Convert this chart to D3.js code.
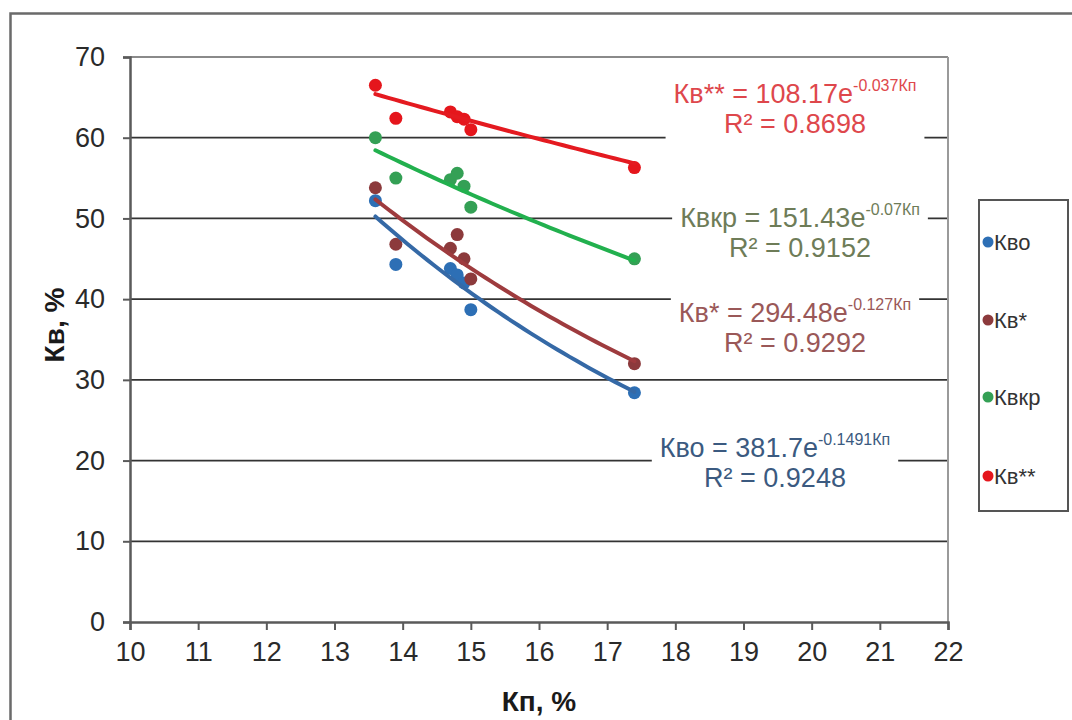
<!DOCTYPE html>
<html>
<head>
<meta charset="utf-8">
<script src="https://cdn.jsdelivr.net/npm/d3@7"></script>
<style>
  body { margin: 0; background: #fff; }
  svg { display: block; font-family: "Liberation Sans", Arial, sans-serif; }
</style>
</head>
<body>
<div id="chart"></div>
<script>
//================================
// Data
var kp = [13.6, 13.9, 14.7, 14.8, 14.9, 15.0, 17.4];

var kvo     = [52.2, 44.3, 43.8, 43.0, 42.0, 38.7, 28.4];
var kvStar  = [53.8, 46.8, 46.3, 48.0, 45.0, 42.5, 32.0];
var kvkr    = [60.0, 55.0, 54.8, 55.6, 54.0, 51.4, 45.0];
var kvStar2 = [66.5, 62.4, 63.2, 62.6, 62.3, 61.0, 56.3];

var seriesNames = ['Кво', 'Кв*', 'Квкр', 'Кв**'];
// trend y = a * exp(b * Kп), as printed on the chart
var trendA = [381.7, 294.48, 151.43, 108.17];
var trendB = [-0.1491, -0.127, -0.07, -0.037];
var eqLead = ['Кво = 381.7e', 'Кв* = 294.48e', 'Квкр = 151.43e', 'Кв** = 108.17e'];
var eqPow  = ['-0.1491Кп', '-0.127Кп', '-0.07Кп', '-0.037Кп'];
var r2Text = ['R² = 0.9248', 'R² = 0.9292', 'R² = 0.9152', 'R² = 0.8698'];

var xTicks = d3.range(10, 23, 1);
var yTicks = d3.range(0, 71, 10);

//================================
// Styles
var markColor  = ['#2d6fb5', '#8c3a3c', '#34a055', '#e5161c'];
var lineColor  = ['#3569a6', '#9e3b3e', '#22b04e', '#e41a20'];
var labelColor = ['#3b5a80', '#9a5858', '#6e7c58', '#de474c'];
// label centre x, equation baseline y
var labelPos = [[775, 457], [795, 322], [800, 227], [795, 103]];
var legendY = [242, 320, 397, 476];

var W = 1072, H = 720,
    plotL = 130, plotR = 948, plotT = 57, plotB = 622;

var svg = d3.select('#chart').append('svg')
    .attr('width', W).attr('height', H);

// outer chart border
svg.append('rect')
    .attr('x', 10.5).attr('y', 13.5)
    .attr('width', 1100).attr('height', 800)
    .attr('fill', '#fff').attr('stroke', '#6a6a6a').attr('stroke-width', 2.5);

var x = d3.scaleLinear().domain([10, 22]).range([plotL, plotR]);
var y = d3.scaleLinear().domain([0, 70]).range([plotB, plotT]);

// grid
svg.append('g').selectAll('line')
    .data(yTicks.filter(function(d) { return d > 0; }))
  .enter().append('line')
    .attr('x1', plotL).attr('x2', plotR)
    .attr('y1', function(d) { return y(d); })
    .attr('y2', function(d) { return y(d); })
    .attr('stroke', function(d) { return d === 70 ? '#8a8a8a' : '#333'; })
    .attr('stroke-width', 1.8);

// plot area right edge
svg.append('line')
    .attr('x1', plotR).attr('x2', plotR)
    .attr('y1', plotT).attr('y2', plotB)
    .attr('stroke', '#9a9a9a').attr('stroke-width', 2);

// axes
var yAxis = svg.append('g')
    .attr('transform', 'translate(' + plotL + ',0)')
    .call(d3.axisLeft(y).tickValues(yTicks).tickSize(7).tickPadding(18));
var xAxis = svg.append('g')
    .attr('transform', 'translate(0,' + plotB + ')')
    .call(d3.axisBottom(x).tickValues(xTicks).tickSize(8).tickPadding(12));

[yAxis, xAxis].forEach(function(ax) {
  ax.select('.domain').attr('stroke', '#5a5a5a').attr('stroke-width', 2.5);
  ax.selectAll('.tick line').attr('stroke', '#5a5a5a').attr('stroke-width', 2);
  ax.selectAll('.tick text')
      .attr('fill', '#2a2a2a')
      .style('font-size', '27px')
      .style('font-family', '"Liberation Sans", Arial, sans-serif');
});

// axis titles
svg.append('text')
    .attr('transform', 'translate(64,325) rotate(-90)')
    .attr('text-anchor', 'middle')
    .style('font-size', '28px').style('font-weight', 'bold')
    .attr('fill', '#1a1a1a')
    .text('Кв, %');
svg.append('text')
    .attr('x', 539).attr('y', 711)
    .attr('text-anchor', 'middle')
    .style('font-size', '28px').style('font-weight', 'bold')
    .attr('fill', '#1a1a1a')
    .text('Кп, %');

//================================
// series
var allSeries = [kvo, kvStar, kvkr, kvStar2];

allSeries.forEach(function(vals, i) {
  svg.append('g').selectAll('circle')
      .data(vals)
    .enter().append('circle')
      .attr('cx', function(d, j) { return x(kp[j]); })
      .attr('cy', function(d) { return y(d); })
      .attr('r', 6.5)
      .attr('fill', markColor[i]);
});

allSeries.forEach(function(vals, i) {
  var x0 = d3.min(kp), x1 = d3.max(kp);
  var pts = d3.range(0, 41).map(function(k) {
    var xv = x0 + (x1 - x0) * k / 40;
    return [xv, trendA[i] * Math.exp(trendB[i] * xv)];
  });
  svg.append('path')
      .datum(pts)
      .attr('d', d3.line()
          .x(function(d) { return x(d[0]); })
          .y(function(d) { return y(d[1]); }))
      .attr('fill', 'none')
      .attr('stroke', lineColor[i])
      .attr('stroke-width', 4)
      .attr('stroke-linecap', 'round');
});

// trend labels
seriesNames.forEach(function(name, i) {
  var g = svg.append('g');
  var bg = g.append('rect').attr('fill', '#fff');
  var eq = g.append('text')
      .attr('x', labelPos[i][0]).attr('y', labelPos[i][1])
      .attr('text-anchor', 'middle')
      .attr('fill', labelColor[i])
      .style('font-size', '27px');
  eq.append('tspan').text(eqLead[i]);
  eq.append('tspan').attr('dy', -12).style('font-size', '16px').text(eqPow[i]);
  g.append('text')
      .attr('x', labelPos[i][0]).attr('y', labelPos[i][1] + 30)
      .attr('text-anchor', 'middle')
      .attr('fill', labelColor[i])
      .style('font-size', '27px')
      .text(r2Text[i]);
  var bb = g.node().getBBox();
  bg.attr('x', bb.x - 8).attr('y', bb.y - 2)
    .attr('width', bb.width + 16).attr('height', bb.height + 4);
});

//================================
// legend
svg.append('rect')
    .attr('x', 979).attr('y', 200)
    .attr('width', 89).attr('height', 311)
    .attr('fill', '#fff').attr('stroke', '#555').attr('stroke-width', 2);

var leg = svg.append('g').selectAll('g')
    .data(seriesNames)
  .enter().append('g')
    .attr('transform', function(d, i) { return 'translate(988,' + legendY[i] + ')'; });
leg.append('circle').attr('r', 5.5)
    .attr('fill', function(d, i) { return markColor[i]; });
leg.append('text')
    .attr('x', 6).attr('dy', '0.35em')
    .style('font-size', '22px')
    .attr('fill', '#333')
    .text(function(d) { return d; });
</script>
</body>
</html>
